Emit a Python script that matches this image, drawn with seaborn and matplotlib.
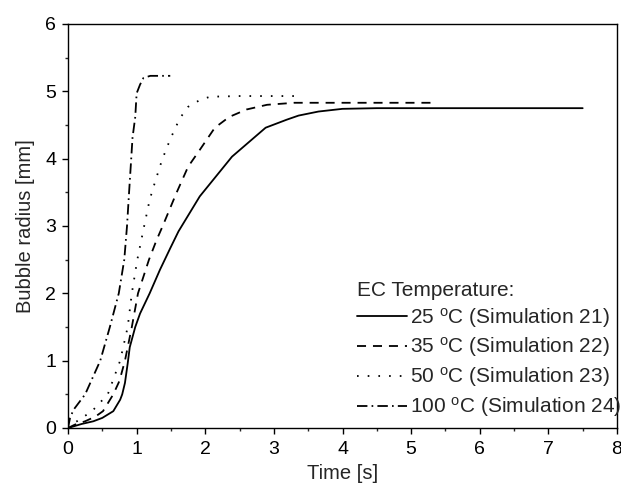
import numpy as np
import pandas as pd
import matplotlib
matplotlib.use("Agg")
import matplotlib.pyplot as plt
import seaborn as sns

# ---- data ----
t25 = [0, 0.1, 0.2, 0.37, 0.5, 0.66, 0.76, 0.79, 0.83, 0.87, 0.9, 0.98, 1.05, 1.19, 1.34, 1.49, 1.61, 1.92, 2.39, 2.88, 3.19, 3.36, 3.65, 4.0, 4.5, 5, 6, 7, 7.5]
r25 = [0, 0.03, 0.06, 0.1, 0.15, 0.25, 0.42, 0.5, 0.67, 0.96, 1.2, 1.5, 1.7, 2.0, 2.35, 2.67, 2.92, 3.44, 4.03, 4.46, 4.58, 4.64, 4.70, 4.74, 4.75, 4.75, 4.75, 4.75, 4.75]

t35 = [0, 0.1, 0.25, 0.4, 0.51, 0.66, 0.75, 0.83, 0.93, 1.02, 1.18, 1.29, 1.38, 1.58, 1.75, 1.92, 2.14, 2.35, 2.6, 2.9, 3.3, 4.0, 4.5, 5.3]
r35 = [0, 0.05, 0.1, 0.17, 0.25, 0.5, 0.7, 1.0, 1.5, 2.0, 2.5, 2.79, 3.0, 3.49, 3.88, 4.13, 4.46, 4.62, 4.73, 4.80, 4.83, 4.83, 4.83, 4.83]

t50 = [0, 0.05, 0.13, 0.35, 0.58, 0.76, 0.87, 0.93, 1.01, 1.11, 1.19, 1.27, 1.37, 1.49, 1.63, 1.75, 1.92, 2.07, 2.5, 3.0, 3.35]
r50 = [0, 0.06, 0.1, 0.25, 0.5, 1.0, 1.5, 2.0, 2.5, 3.0, 3.39, 3.66, 3.98, 4.29, 4.6, 4.77, 4.87, 4.92, 4.93, 4.93, 4.93]

t100 = [0, 0.03, 0.08, 0.25, 0.47, 0.61, 0.74, 0.82, 0.86, 0.89, 0.92, 0.94, 0.98, 1.0, 1.05, 1.1, 1.2, 1.49]
r100 = [0, 0.15, 0.27, 0.5, 1.0, 1.5, 2.0, 2.5, 3.0, 3.5, 3.98, 4.31, 4.62, 4.97, 5.1, 5.2, 5.23, 5.23]

labels = ["25 $^\\mathrm{o}$C (Simulation 21)",
          "35 $^\\mathrm{o}$C (Simulation 22)",
          "50 $^\\mathrm{o}$C (Simulation 23)",
          "100 $^\\mathrm{o}$C (Simulation 24)"]
dash_patterns = [None, (0, (6.5, 5.0)), (0, (1.2, 6.5)), (0, (7.5, 3.0, 1.2, 3.0))]

sns.set_style("ticks")
plt.rcParams["font.family"] = ["Liberation Sans", "DejaVu Sans"]
plt.rcParams["mathtext.fontset"] = "custom"
plt.rcParams["mathtext.rm"] = "Liberation Sans"
plt.rcParams["mathtext.it"] = "Liberation Sans:italic"
plt.rcParams["lines.scale_dashes"] = False

fig = plt.figure(figsize=(6.21, 4.88), dpi=100)
ax = fig.add_axes([68/621, 1-428/488, (617-68)/621, (428-24)/488])

series = [(t25, r25), (t35, r35), (t50, r50), (t100, r100)]
for (tt, rr), lab, dp in zip(series, labels, dash_patterns):
    df = pd.DataFrame({"t": tt, "r": rr})
    sns.lineplot(data=df, x="t", y="r", ax=ax, color="black", lw=1.3,
                 label=lab, estimator=None, sort=False)
    ln = ax.lines[-1]
    if dp is not None:
        ln.set_linestyle(dp)

ax.set_xlim(0, 8)
ax.set_ylim(0, 6)
ax.set_xticks(range(0, 9))
ax.set_yticks(range(0, 7))
ax.set_xticks(np.arange(0.5, 8, 1), minor=True)
ax.set_yticks(np.arange(0.5, 6, 1), minor=True)
ax.tick_params(which="major", direction="out", length=4.5, width=1.0, labelsize=14, pad=4, colors="black")
ax.tick_params(axis="x", which="major", pad=5)
ax.tick_params(which="minor", direction="out", length=2.5, width=1.0)
for s in ax.spines.values():
    s.set_linewidth(1.0)
    s.set_color("black")
ax.set_xlabel("Time [s]", fontsize=14.5, labelpad=4)
ax.set_ylabel("Bubble radius [mm]", fontsize=14.5, labelpad=7)

leg = ax.legend(title="EC Temperature:", loc="lower left", bbox_to_anchor=(0.526, 0.022),
                frameon=False, fontsize=15, title_fontsize=15,
                handlelength=2.4, handletextpad=0.15, labelspacing=0.28,
                borderpad=0, borderaxespad=0, alignment="left")
leg._legend_box.sep = 4
fig.savefig("out.png", dpi=100)
